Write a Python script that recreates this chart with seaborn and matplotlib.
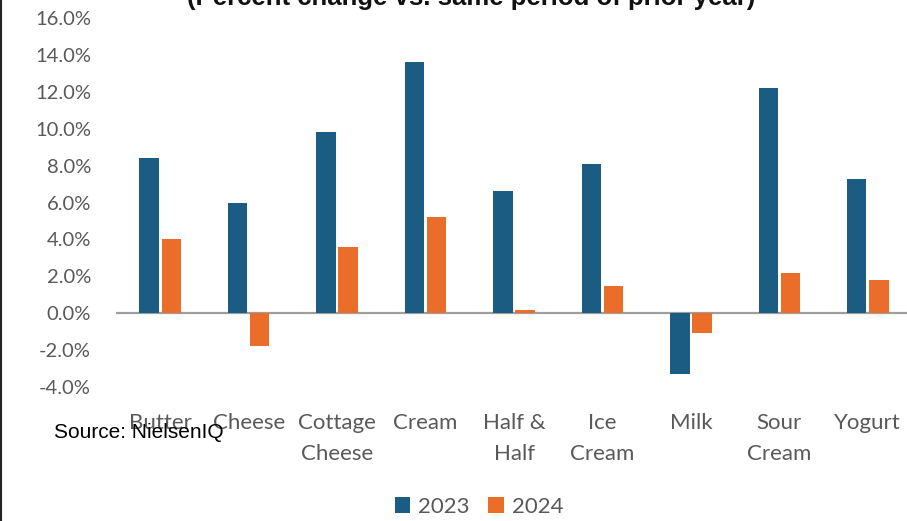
import matplotlib
matplotlib.use("Agg")
import matplotlib.pyplot as plt
import seaborn as sns
import pandas as pd
from matplotlib.lines import Line2D
from matplotlib.patches import Patch

categories = ["Butter", "Cheese", "Cottage\nCheese", "Cream", "Half &\nHalf",
              "Ice\nCream", "Milk", "Sour\nCream", "Yogurt"]
values_2023 = [8.4, 6.0, 9.8, 13.6, 6.6, 8.1, -3.3, 12.2, 7.3]
values_2024 = [4.0, -1.8, 3.6, 5.2, 0.2, 1.5, -1.1, 2.2, 1.8]
series = ["2023", "2024"]
yticks = [-4, -2, 0, 2, 4, 6, 8, 10, 12, 14, 16]
title = "(Percent change vs. same period of prior year)"
source = "Source: NielsenIQ"

colors = {"2023": "#1B5C82", "2024": "#EA6D2A"}

df = pd.DataFrame({
    "category": categories * 2,
    "value": values_2023 + values_2024,
    "year": [series[0]] * len(categories) + [series[1]] * len(categories),
})

sns.set_theme(style="white")
plt.rcParams["font.family"] = ["Lato", "DejaVu Sans"]

fig = plt.figure(figsize=(9.07, 5.21), dpi=100)
ax = fig.add_axes([116 / 907, 1 - 387 / 521, 796 / 907, (387 - 18) / 521])

sns.barplot(data=df, x="category", y="value", hue="year", palette=colors,
            width=0.5, gap=0.12, ax=ax, legend=False, saturation=1,
            edgecolor="none", linewidth=0)

ax.set_xlim(-0.5, 8.5)
ax.set_ylim(-4, 16)
ax.axhline(0, color="#9E9E9E", lw=1.6, zorder=0)
ax.set_yticks(yticks)
ax.set_yticklabels([f"{v:.1f}%" for v in yticks], color="#595959", fontsize=14.5)
ax.tick_params(axis="y", length=0, pad=18)
ax.tick_params(axis="x", length=0, pad=18.5)
for lbl in ax.get_xticklabels():
    lbl.set_fontsize(16)
    lbl.set_color("#595959")
    lbl.set_linespacing(1.72)
ax.set_xlabel("")
ax.set_ylabel("")
for s in ax.spines.values():
    s.set_visible(False)
ax.grid(False)

handles = [Patch(facecolor=colors[s], edgecolor="none", label=s) for s in series]
leg = fig.legend(handles=handles, loc="center", bbox_to_anchor=(479 / 907, 1 - 507 / 521),
                 ncol=2, frameon=False, fontsize=16, handlelength=0.7, handleheight=0.7,
                 handletextpad=0.35, columnspacing=0.85)
for t in leg.get_texts():
    t.set_color("#595959")

fig.text(471 / 907, 1 - 5 / 521, title, ha="center", va="baseline",
         fontsize=18.5, fontweight="bold", family="Liberation Sans", color="#111111")
fig.text(54 / 907, 1 - 432 / 521, source, ha="left", va="center",
         fontsize=15, family="Liberation Sans", color="#000000")

fig.add_artist(Line2D([1 / 907, 1 / 907], [0, 1], color="#222222", lw=1.5,
                      transform=fig.transFigure))

fig.savefig("out.png", dpi=100)
